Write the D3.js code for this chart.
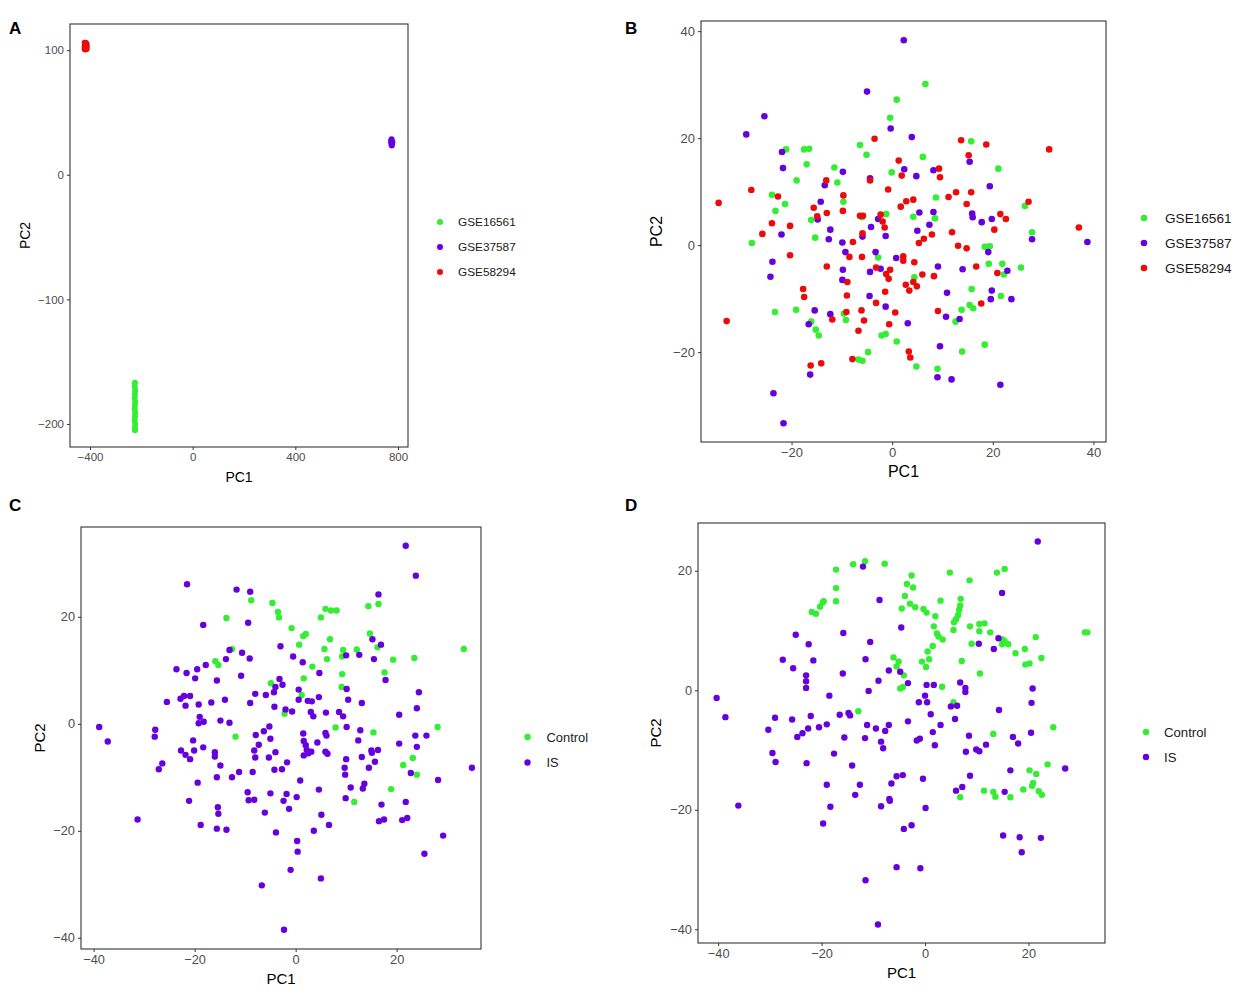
<!DOCTYPE html>
<html>
<head>
<meta charset="utf-8">
<script src="https://cdn.jsdelivr.net/npm/d3@7"></script>
<style>
  body { margin: 0; background: #fff; }
  svg text { font-family: "Liberation Sans", Arial, sans-serif; }
</style>
</head>
<body>
<div id="chart"></div>
<script>
// ---------------- data (PC1, PC2) ----------------

// Panel A : before batch correction
var a_gse16561 = [[-225,-167],[-226,-170],[-224,-173],[-225,-176],[-226,-179],[-224,-182],[-225,-185],[-226,-188],[-224,-191],[-225,-194],[-226,-197],[-224,-200],[-225,-203],[-225,-205]];
var a_gse37587 = [[775,28.5],[776,27],[774,26],[777,25],[775,24],[776,23.5],[773,27],[778,26],[775,25.5]];
var a_gse58294 = [[-421,106],[-417,106],[-413,105],[-421,103],[-417,103],[-413,103],[-421,101],[-417,101],[-413,101],[-419,104],[-415,102],[-419,100.5]];

// Panel B : after batch correction
var b_gse16561 = [[0.9,27.2],[6.6,30.1],[-0.4,23.8],[15.7,19.4],[-21.1,17.9],[-17.5,17.9],[-16.5,18.0],[-6.4,18.7],[-5.1,16.9],[6.1,16.5],[-17.0,15.1],[-11.5,14.5],[-0.1,13.6],[21.1,14.3],[-19.0,12.1],[-10.9,11.7],[-23.9,9.4],[8.7,8.9],
  [-21.3,7.7],[-23.2,6.4],[-9.7,8.1],[-16.1,4.7],[-27.9,0.4],[-15.3,1.4],[-6.0,5.2],[-1.2,5.8],[4.2,5.3],[8.5,5.0],[26.4,7.3],[27.8,2.4],[18.4,-0.3],[19.4,-0.2],[19.2,-3.5],[21.9,-3.5],[22.2,-5.5],[25.6,-4.2],[4.4,-6.0],[-2.8,-2.3],[15.8,-8.2],[21.6,-9.5],
  [-23.3,-12.5],[-19.1,-12.1],[-16.1,-14.3],[-15.2,-15.8],[-14.6,-16.9],[-9.6,-12.8],[-9.2,-14.0],[-2.1,-16.9],[-1.3,-16.6],[0.9,-18.0],[-4.8,-20.0],[-6.7,-21.4],[-5.9,-21.6],[4.8,-22.7],[12.6,-14.3],[13.8,-12.1],[15.4,-11.2],[16.1,-11.8],[13.9,-19.9],[18.4,-18.6],[9.0,-23.1]];
var b_gse37587 = [[2.3,38.3],[-5.0,28.7],[-25.4,24.1],[-0.3,21.8],[-29.0,20.7],[3.9,20.2],[-21.9,17.4],[15.4,15.6],[-21.7,14.4],[-9.8,13.7],[2.4,14.2],[4.8,12.9],[8.2,14.0],[-13.4,11.2],[-4.4,12.5],[19.4,11.0],
  [-14.2,8.1],[-14.8,4.8],[-22.0,2.0],[-12.3,2.9],[-12.6,1.1],[-9.9,0.5],[-5.9,1.6],[-4.2,3.4],[-2.8,4.9],[-1.3,1.7],[5.4,6.1],[8.2,6.2],[7.4,3.8],[5.0,2.7],[15.9,5.9],[16.0,5.2],[17.8,4.3],[19.8,4.9],[27.8,1.1],[38.8,0.6],[19.1,-1.3],[22.9,-4.8],[14.0,-4.5],[9.1,-4.0],[0.8,-2.4],[-3.3,-1.3],[-9.3,-1.3],[-9.8,-4.6],[-9.9,-6.5],[-23.8,-3.1],[-24.2,-5.9],[-4.4,-5.0],[-2.3,-4.4],[10.9,-8.9],[19.8,-8.5],[-4.5,-9.5],[19.6,-10.1],[23.7,-10.1],
  [-15.4,-12.2],[-12.3,-12.9],[-16.6,-14.8],[-1.3,-11.5],[3.1,-14.6],[-16.3,-24.2],[-23.6,-27.7],[-21.6,-33.3],[10.7,-13.4],[13.4,-13.8],[9.5,-18.9],[9.0,-24.7],[11.8,-25.1],[21.5,-26.1]];
var b_gse58294 = [[-3.5,19.9],[13.7,19.6],[18.7,18.8],[31.2,17.9],[1.3,15.8],[15.2,16.8],[1.9,13.0],[9.3,14.3],[9.5,12.7],[-13.1,12.1],[-4.4,12.1],[-28.0,10.3],[-22.7,9.1],[-0.8,10.4],[-9.7,9.3],[11.2,9.0],[12.7,9.9],[15.7,9.9],[4.2,8.5],
  [-34.5,7.9],[-15.6,7.0],[-13.0,6.0],[-14.9,5.4],[-9.8,6.4],[-23.9,4.1],[-20.3,3.6],[-25.8,2.1],[-7.8,0.6],[-6.4,5.5],[-5.8,5.5],[-5.9,2.2],[-2.3,5.7],[-1.9,4.4],[-1.5,3.3],[1.7,7.2],[2.8,8.2],[7.9,2.0],[6.3,1.2],[5.3,0.4],[11.9,2.4],[14.8,7.7],[21.5,5.8],[22.6,4.9],[20.3,2.9],[27.1,8.1],[37.1,3.3],[13.1,-0.1],[14.8,-0.6],[16.7,-4.0],[20.9,-5.2],[8.3,-5.8],[6.0,-5.5],[4.4,-3.2],[2.2,-2.1],[2.2,-2.9],[-6.0,-2.2],[-8.5,-2.2],[-8.9,-6.9],[-13.0,-4.0],[-20.3,-1.9],[-3.2,-4.2],[-0.4,-4.6],[-1.2,-5.4],[-0.7,-6.3],[2.7,-7.4],[4.2,-6.9],[4.9,-7.7],[3.4,-8.5],[-1.4,-8.7],[-17.7,-8.2],[-17.5,-9.7],[-9.0,-9.4],
  [-32.9,-14.2],[-11.9,-13.9],[-9.1,-12.5],[-6.1,-12.2],[-5.6,-14.1],[-6.7,-16.0],[-3.2,-10.8],[0.6,-12.6],[-0.6,-14.8],[-7.9,-21.3],[3.3,-19.9],[3.6,-21.0],[-16.2,-22.5],[-14.1,-22.1],[9.1,-12.3],[17.7,-10.9]];

// Panel C : Control vs IS
var c_control = [[-8.8,23.1],[-4.6,22.6],[-3.5,20.9],[-3.3,19.9],[-13.7,19.8],[16.4,22.4],[14.4,22.0],[5.9,21.5],[7.0,21.2],[8.1,21.2],[5.0,19.9],[-0.8,17.9],[2.0,16.8],[1.5,16.4],[0.7,14.8],[6.8,15.8],[5.7,14.0],[6.2,12.1],[14.7,16.9],[16.2,14.3],[33.3,14.0],[-12.6,14.0],[-15.9,11.7],[-15.3,11.0],[3.3,10.7],[9.4,13.8],[9.2,12.6],[12.1,13.9],[19.3,12.0],[23.5,12.3],[1.6,8.5],[9.2,9.3],[17.6,9.6],[-4.9,7.6],[9.1,6.9],
  [-2.2,1.9],[1.2,5.4],[-11.9,-2.4],[7.9,-0.7],[15.4,-1.6],[28.1,-0.6],[23.2,-6.4],[21.3,-7.7],[24.0,-9.5],[18.9,-12.2],[11.6,-14.6]];
var c_is = [[21.8,33.3],[23.8,27.7],[-21.5,26.1],[-11.7,25.1],[-9.0,24.7],[-9.4,18.9],[-18.3,18.5],[16.4,24.2],[15.2,15.8],[16.9,14.8],[-3.0,14.5],[-13.1,13.8],[-10.6,13.3],[-13.8,12.1],[-9.1,12.2],[-0.5,12.6],[1.4,11.5],[10.0,12.8],[12.6,12.9],[15.5,12.1],[-23.6,10.2],[-21.6,9.5],[-19.5,10.2],[-17.8,11.0],[-19.9,8.5],[-15.6,8.1],[-10.8,9.0],[-3.2,8.4],[4.7,9.5],[17.8,8.2],[-4.0,6.9],[-2.6,7.3],[10.1,6.5],
  [-25.5,4.1],[-22.8,4.7],[-22.1,5.2],[-20.9,5.2],[-21.8,3.4],[-19.2,3.6],[-16.7,4.0],[-14.0,4.5],[-9.0,3.9],[-8.0,5.6],[-5.9,5.4],[-4.3,5.9],[-4.2,3.2],[-2.0,2.7],[-0.7,2.3],[0.6,4.5],[0.6,6.4],[2.4,4.3],[3.2,4.2],[4.6,5.0],[3.0,2.2],[3.5,1.4],[6.0,2.1],[8.6,2.2],[9.4,1.4],[10.4,4.5],[13.1,3.9],[20.5,1.7],[24.0,2.9],[24.4,5.9],
  [-38.9,-0.6],[-37.2,-3.3],[-27.8,-1.1],[-27.9,-2.4],[-19.0,1.3],[-19.2,0.1],[-18.2,0.4],[-14.9,0.6],[-13.1,0.2],[-20.3,-3.1],[-18.3,-4.4],[-22.7,-5.0],[-21.8,-5.8],[-20.9,-6.6],[-20.1,-5.0],[-16.0,-5.3],[-16.0,-6.1],[-14.9,-7.8],[-26.4,-7.4],[-27.1,-8.5],[-19.4,-11.0],[-15.6,-10.0],[-12.6,-10.0],[-11.2,-9.0],[-8.5,-9.0],[-7.9,-2.1],[-6.3,-1.4],[-5.2,-0.5],[-7.3,-3.9],[-5.0,-2.8],[-8.2,-5.0],[-8.0,-6.3],[-5.3,-6.3],[-4.0,-5.3],[-1.7,-7.2],[-4.2,-8.6],[-2.7,-8.5],
  [1.5,-1.8],[1.6,-3.2],[2.0,-4.0],[2.2,-4.9],[1.6,-5.9],[2.5,-5.5],[3.1,-5.2],[4.3,-3.5],[5.9,-1.7],[6.1,-2.2],[5.9,-5.2],[6.3,-5.6],[10.1,-0.6],[12.8,-1.2],[12.4,-3.1],[10.0,-6.6],[13.1,-6.2],[15.0,-5.0],[16.3,-4.9],[15.1,-5.4],[15.7,-7.1],[14.5,-8.2],[9.7,-8.2],[9.8,-9.5],[10.9,-11.9],[13.6,-11.2],[13.3,-12.1],[25.9,-2.2],[23.7,-2.2],[20.5,-3.7],[24.0,-4.3],[22.8,-9.2],[28.2,-10.5],[34.9,-8.2],[0.9,-10.6],[4.6,-12.3],[-9.5,-12.8],[-5.0,-13.0],[-1.8,-13.1],[0.2,-13.7],
  [-31.3,-17.9],[-18.8,-18.9],[-15.6,-19.6],[-13.7,-19.8],[-15.3,-16.8],[-15.4,-15.6],[-21.1,-14.4],[-6.1,-16.6],[-3.9,-20.3],[-1.3,-15.9],[-2.4,-14.4],[-9.3,-14.3],[-8.2,-14.2],[0.3,-21.9],[0.4,-23.9],[-1.0,-27.3],[-6.7,-30.2],[-2.3,-38.5],[5.0,-28.9],[5.1,-17.0],[6.6,-18.9],[3.6,-20.0],[9.9,-13.9],[17.0,-15.1],[16.5,-18.2],[17.5,-17.9],[21.1,-18.0],[22.1,-17.6],[21.8,-14.6],[25.5,-24.3],[29.2,-20.9]];

// Panel D : Control vs IS
var d_control = [[-11.6,21.6],[-13.9,21.1],[-7.8,21.2],[-17.2,20.2],[-17.2,17.1],[-17.2,14.9],[-21.9,13.1],[-21.1,12.8],[-20.3,14.0],[-19.8,14.7],[-19.6,14.9],[-2.6,19.2],[-3.5,17.8],[-2.3,17.2],[-3.9,15.8],[-2.9,14.5],[-1.9,13.9],[-4.5,13.7],[-0.3,13.6],[0.3,13.0],[2.0,12.4],[1.7,10.7],[4.8,19.7],[8.6,18.4],[3.0,15.0],[6.9,15.3],[6.8,14.2],[6.6,13.5],[6.4,12.6],[6.0,11.9],[5.6,11.4],[5.5,10.1],[13.9,19.7],[15.4,20.3],[8.7,10.7],[10.5,11.1],[11.5,11.2],[10.5,9.9],[12.6,9.7],[2.3,9.5],[2.6,9.0],[3.4,8.5],[1.5,7.4],[0.5,6.5],[0.8,5.2],[-0.6,4.8],[0.2,3.9],[-6.1,5.5],[-5.1,4.8],[-5.5,4.0],[-4.1,2.5],[-4.8,0.3],[-4.3,0.5],[9.0,7.8],[15.0,8.5],[15.4,8.2],[16.1,7.7],[14.9,7.7],[17.5,6.2],[19.3,6.9],[19.4,4.3],[20.2,4.5],[21.4,8.9],[22.5,5.4],[31.4,9.7],[30.9,9.7],[7.1,4.9],[10.6,2.8],[3.3,0.6],
  [5.5,-2.0],[-12.9,-3.5],[13.2,-7.3],[24.8,-6.2],[6.8,-17.9],[11.4,-16.8],[13.2,-17.0],[13.6,-17.8],[16.5,-17.9],[20.2,-13.4],[21.5,-14.0],[23.7,-12.4],[20.9,-15.5],[20.7,-16.0],[19.0,-16.6],[22.0,-16.9],[22.6,-17.5]];
var d_is = [[21.8,24.9],[-12.0,20.7],[-8.8,15.1],[14.9,16.3],[-4.6,10.5],[-15.8,9.6],[-10.6,8.1],[-25.0,9.3],[-22.5,7.7],[-27.5,5.1],[-25.5,3.7],[-21.6,5.0],[-23.0,2.5],[-23.0,1.5],[-23.0,0.4],[-11.5,5.2],[-15.9,2.8],[-9.0,1.6],[-7.0,3.3],[-4.8,3.1],[-3.3,1.2],[10.4,7.8],[13.3,6.9],[14.2,8.7],[6.8,1.3],[0.3,0.9],[1.7,0.9],[20.8,0.3],[7.8,0.4],
  [-40.3,-1.3],[-38.6,-4.5],[-18.5,-0.9],[-10.9,-0.1],[7.8,-0.3],[-1.2,-2.0],[0.0,-0.9],[0.4,-2.0],[5.0,-2.7],[6.2,-2.6],[5.8,-4.8],[20.6,-2.1],[14.3,-3.3],[-29.0,-4.6],[-25.7,-4.9],[-22.1,-4.3],[-30.3,-6.6],[-24.7,-7.8],[-23.7,-7.2],[-22.6,-6.4],[-20.5,-6.2],[-19.0,-5.7],[-16.5,-4.1],[-14.8,-3.8],[-14.5,-4.2],[-15.6,-7.9],[-11.2,-5.8],[-9.5,-6.4],[-7.7,-6.8],[-7.0,-5.8],[-11.6,-8.0],[-8.5,-8.6],[-8.1,-9.7],[-3.3,-5.2],[1.1,-4.0],[3.0,-5.8],[1.5,-7.0],[-1.6,-8.4],[-1.0,-8.1],[1.9,-9.2],[8.5,-7.6],[7.9,-10.3],[9.9,-9.9],[10.5,-10.2],[11.8,-9.1],[17.0,-7.8],[18.0,-8.9],[20.5,-7.1],
  [-29.5,-10.5],[-28.9,-12.0],[-22.9,-12.2],[-17.6,-10.6],[-14.1,-12.6],[-19.0,-15.8],[-12.6,-15.8],[-13.5,-17.5],[-6.5,-15.6],[-5.5,-14.4],[-4.3,-14.2],[-0.4,-14.8],[-6.9,-18.2],[8.7,-14.3],[7.2,-16.2],[6.0,-16.8],[16.5,-13.4],[15.4,-17.0],[27.1,-13.1],
  [-36.1,-19.3],[-18.3,-19.5],[-19.7,-22.3],[-8.5,-19.4],[-6.8,-18.5],[0.1,-19.7],[-2.6,-22.6],[-4.1,-23.2],[15.1,-24.3],[18.3,-24.6],[22.4,-24.7],[18.7,-27.1],[-5.5,-29.6],[-0.9,-29.8],[-11.5,-31.8],[-9.1,-39.2]];

var batch_names = ['GSE16561', 'GSE37587', 'GSE58294'];
var group_names = ['Control', 'IS'];
var a_x_ticks = [-400, 0, 400, 800], a_y_ticks = [-200, -100, 0, 100];
var b_ticks = [-20, 0, 20, 40];
var cd_ticks = [-40, -20, 0, 20];

// ---------------- drawing ----------------
var green = '#33ee33', purple = '#6600dd', red = '#ee0a0a';

var svg = d3.select('#chart')
  .append('svg')
  .attr('width', 1248)
  .attr('height', 991);

var fmt = d3.format('d');

// each panel of the figure was scaled a little differently, so font sizes go per panel
function drawPanel(p) {
  var x_scale = d3.scaleLinear().domain(p.xDomain).range([p.left, p.right]);
  var y_scale = d3.scaleLinear().domain(p.yDomain).range([p.bottom, p.top]);
  var g = svg.append('g');

  // points
  p.series.forEach(function(s) {
    g.selectAll(null)
      .data(s.values)
      .enter()
      .append('circle')
      .attr('cx', function(d) { return x_scale(d[0]); })
      .attr('cy', function(d) { return y_scale(d[1]); })
      .attr('r', p.r)
      .attr('fill', s.color);
  });

  // axes
  var xa = g.append('g')
    .attr('transform', 'translate(0,' + p.bottom + ')')
    .call(d3.axisBottom(x_scale).tickValues(p.xTicks).tickSize(3).tickSizeOuter(0).tickFormat(fmt));
  var ya = g.append('g')
    .attr('transform', 'translate(' + p.left + ',0)')
    .call(d3.axisLeft(y_scale).tickValues(p.yTicks).tickSize(3).tickSizeOuter(0).tickFormat(fmt));
  [xa, ya].forEach(function(a) {
    a.select('.domain').remove();
    a.selectAll('line').attr('stroke', '#333');
    a.selectAll('text').attr('fill', '#4d4d4d').attr('font-size', p.tickFont + 'px')
      .style('font-family', '"Liberation Sans", Arial, sans-serif');
  });

  // border
  g.append('rect')
    .attr('x', p.left).attr('y', p.top)
    .attr('width', p.right - p.left).attr('height', p.bottom - p.top)
    .attr('fill', 'none').attr('stroke', '#333').attr('stroke-width', 1.1);

  // axis titles
  g.append('text')
    .attr('x', (p.left + p.right) / 2).attr('y', p.bottom + p.xtitleOff)
    .attr('text-anchor', 'middle').attr('font-size', p.titleFont + 'px').attr('fill', '#000')
    .text('PC1');
  g.append('text')
    .attr('transform', 'translate(' + (p.left - p.ytitleOff) + ',' + ((p.top + p.bottom) / 2) + ') rotate(-90)')
    .attr('dy', '0.35em')
    .attr('text-anchor', 'middle').attr('font-size', p.titleFont + 'px').attr('fill', '#000')
    .text('PC2');

  // panel letter
  g.append('text')
    .attr('x', p.letterX).attr('y', p.letterY)
    .attr('font-size', '17px').attr('font-weight', 'bold').attr('fill', '#000')
    .text(p.letter);

  // legend
  var lg = g.append('g');
  p.series.forEach(function(s, i) {
    var yy = p.legendY + i * p.legendStep;
    lg.append('circle').attr('cx', p.legendX).attr('cy', yy).attr('r', p.r).attr('fill', s.color);
    lg.append('text').attr('x', p.legendX + p.legendGap).attr('y', yy).attr('dy', '0.35em')
      .attr('font-size', p.legendFont + 'px').attr('fill', '#1a1a1a').text(s.name);
  });
}

drawPanel({
  letter: 'A', letterX: 9, letterY: 34,
  left: 70, right: 408, top: 24, bottom: 447,
  xDomain: [-478, 839], yDomain: [-218.5, 121],
  xTicks: a_x_ticks, yTicks: a_y_ticks,
  tickFont: 11.5, titleFont: 14, legendFont: 11.8, r: 3,
  xtitleOff: 35, ytitleOff: 45,
  legendX: 440, legendY: 222, legendStep: 25, legendGap: 18,
  series: [
    {name: batch_names[0], color: green, values: a_gse16561},
    {name: batch_names[1], color: purple, values: a_gse37587},
    {name: batch_names[2], color: red, values: a_gse58294}
  ]
});

drawPanel({
  letter: 'B', letterX: 625, letterY: 34,
  left: 701, right: 1106, top: 21, bottom: 442,
  xDomain: [-38.0, 42.5], yDomain: [-36.8, 41.9],
  xTicks: b_ticks, yTicks: b_ticks,
  tickFont: 13, titleFont: 16, legendFont: 13.6, r: 3.3,
  xtitleOff: 35, ytitleOff: 45,
  legendX: 1144, legendY: 218, legendStep: 25, legendGap: 21,
  series: [
    {name: batch_names[0], color: green, values: b_gse16561},
    {name: batch_names[1], color: purple, values: b_gse37587},
    {name: batch_names[2], color: red, values: b_gse58294}
  ]
});

drawPanel({
  letter: 'C', letterX: 9, letterY: 511,
  left: 81, right: 481, top: 527, bottom: 949,
  xDomain: [-42.5, 36.7], yDomain: [-42.1, 36.8],
  xTicks: cd_ticks, yTicks: cd_ticks,
  tickFont: 12.8, titleFont: 15, legendFont: 12.9, r: 3.2,
  xtitleOff: 35, ytitleOff: 41,
  legendX: 527.5, legendY: 737, legendStep: 25.5, legendGap: 19,
  series: [
    {name: group_names[0], color: green, values: c_control},
    {name: group_names[1], color: purple, values: c_is}
  ]
});

drawPanel({
  letter: 'D', letterX: 625, letterY: 511,
  left: 698, right: 1105, top: 523, bottom: 943,
  xDomain: [-43.9, 34.8], yDomain: [-42.3, 28.0],
  xTicks: cd_ticks, yTicks: cd_ticks,
  tickFont: 12.8, titleFont: 15, legendFont: 13.2, r: 3.2,
  xtitleOff: 35, ytitleOff: 42,
  legendX: 1146, legendY: 732, legendStep: 25, legendGap: 18,
  series: [
    {name: group_names[0], color: green, values: d_control},
    {name: group_names[1], color: purple, values: d_is}
  ]
});
</script>
</body>
</html>
